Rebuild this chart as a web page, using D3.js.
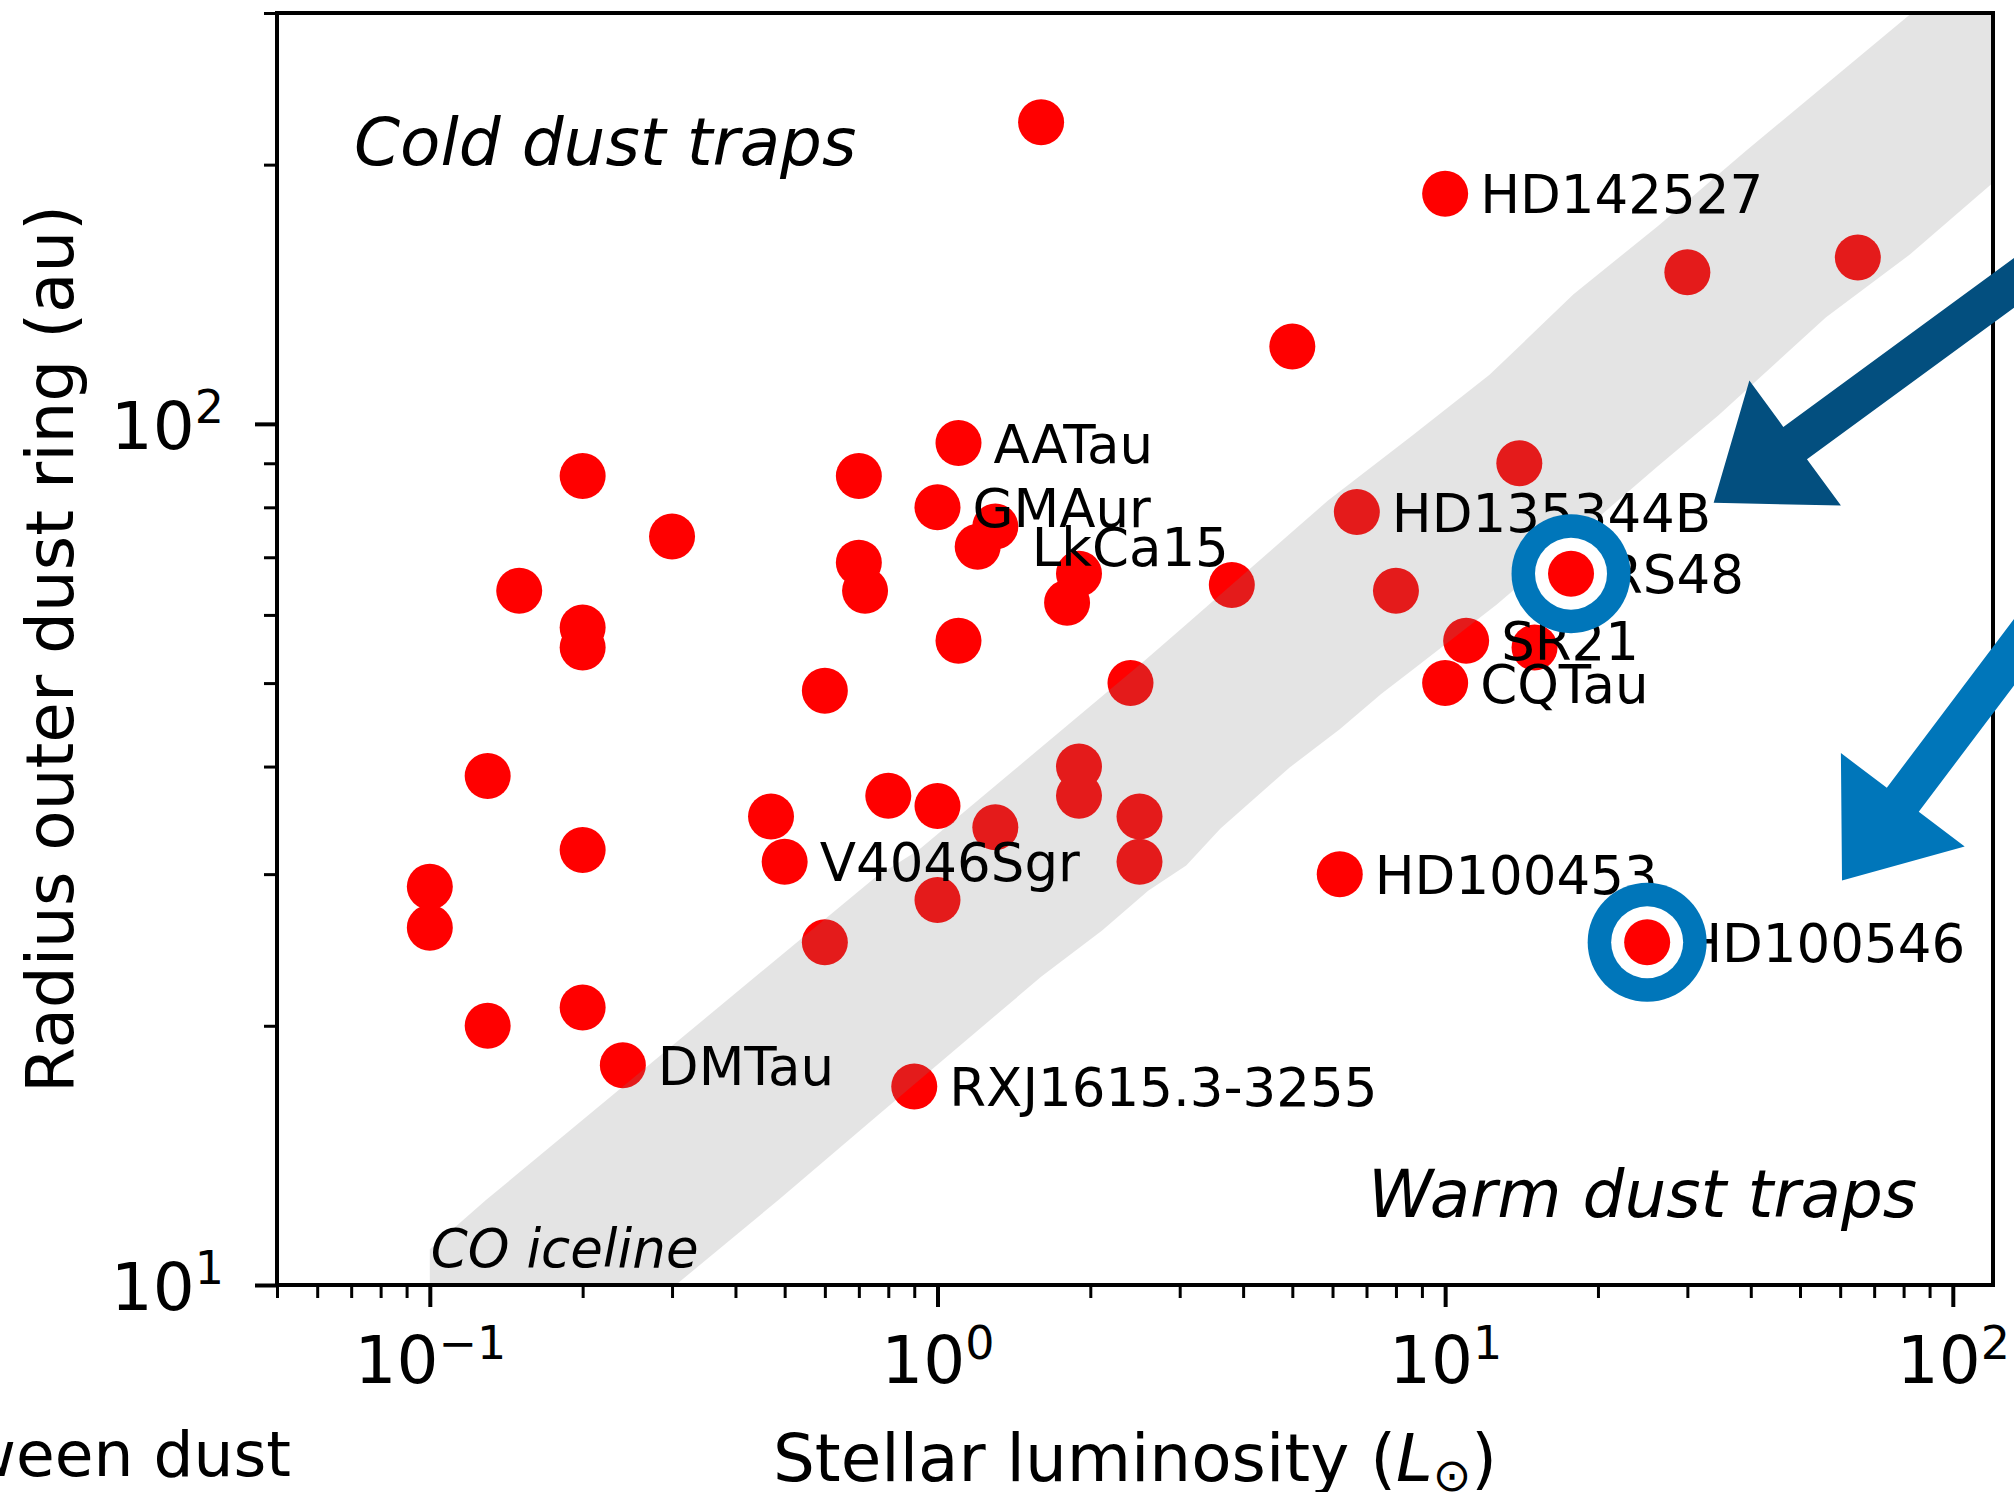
<!DOCTYPE html>
<html><head><meta charset="utf-8">
<script src="https://cdn.jsdelivr.net/npm/d3@7"></script>
<style>html,body{margin:0;padding:0;background:#fff;} svg{display:block;}</style>
</head><body>
<script>
// ---------------- DATA ----------------
const luminosity = [1.6, 10, 30, 65, 5, 1.1, 0.2, 0.7, 1.0, 1.3,
  1.2, 0.3, 0.7, 0.72, 0.15, 1.9, 1.8, 3.8, 0.2, 0.2,
  1.1, 14, 6.7, 8, 17.7, 11, 15, 10, 2.4, 0.6,
  0.13, 1.9, 1.9, 0.8, 1.0, 0.47, 1.3, 2.5, 0.2, 0.5,
  2.5, 0.1, 0.1, 1.0, 0.6, 6.2, 25, 0.13, 0.2, 0.24,
  0.9];
const radius = [224, 185, 150, 156, 123, 95, 87, 87, 80, 76,
  72, 74, 69, 64, 64, 67, 62, 65, 58, 55,
  56, 90, 79, 64, 67, 56, 55, 50, 50, 49,
  39, 40, 37, 37, 36, 35, 34, 35, 32, 31,
  31, 29, 26, 28, 25, 30, 25, 20, 21, 18,
  17];
const names = ["", "HD142527", "", "", "", "AATau", "", "", "GMAur", "",
  "LkCa15", "", "", "", "", "", "", "", "", "",
  "", "", "HD135344B", "", "RS48", "SR21", "", "CQTau", "", "",
  "", "", "", "", "", "", "", "", "", "V4046Sgr",
  "", "", "", "", "", "HD100453", "HD100546", "", "", "DMTau",
  "RXJ1615.3-3255"];
const highlighted = ["RS48", "HD100546"];

// CO iceline band edges (luminosity, radius)
const bandUpperL = [0.1, 0.129, 0.757, 0.918, 2.56, 3.09, 4.94, 5.87, 8.63, 12.23, 17.9, 26.3, 39.1, 83, 130];
const bandUpperR = [11.0, 12.55, 29.8, 32.0, 53.1, 58.5, 74.5, 81.4, 97.0, 114, 141.4, 169.9, 207.4, 300, 370];
const bandLowerL = [0.1, 0.305, 0.486, 0.757, 1.6, 2.11, 2.6, 3.09, 3.61, 4.94, 6.2, 7.49, 8.63, 12.64, 26.2, 34.6, 56.2, 82.3, 116.4, 130];
const bandLowerR = [5.8, 10, 12.55, 15.68, 22.8, 25.8, 28.7, 30.7, 33.9, 39.9, 44.2, 48.6, 51.8, 61.7, 89.2, 102.4, 132.9, 157.3, 187.7, 198];

// axes
const xDomain = [0.05, 120];
const yDomain = [10, 300];
const xMajorTicks = [0.1, 1, 10, 100];
const xTickExponents = ["\u22121", "0", "1", "2"];
const yMajorTicks = [10, 100];
const yTickExponents = ["1", "2"];

// arrow annotations: tip (luminosity, radius)
const arrowTipL = [33.8, 60.5];
const arrowTipR = [81, 29.5];

// ---------------- LAYOUT / STYLE ----------------
const W = 2014, H = 1492;
const M = {left: 277, right: 1993, top: 13, bottom: 1285};
const FONT = "'DejaVu Sans', 'Liberation Sans', sans-serif";
const labelDx = {"LkCa15": 54};
const arrowStyle = [
  {angle: -36.2, color: "#034f7f"},
  {angle: -53.0, color: "#0076ba"}
];

const svg = d3.select("body").append("svg")
  .attr("width", W).attr("height", H)
  .style("font-family", FONT);

const x = d3.scaleLog().domain(xDomain).range([M.left, M.right]);
const y = d3.scaleLog().domain(yDomain).range([M.bottom, M.top]);

svg.append("defs").append("clipPath").attr("id", "plotclip")
  .append("rect").attr("x", M.left).attr("y", M.top)
  .attr("width", M.right - M.left).attr("height", M.bottom - M.top);

const pts = luminosity.map((L, i) => ({L, R: radius[i], name: names[i]}));

// dots
svg.append("g").attr("clip-path", "url(#plotclip)")
  .selectAll("circle").data(pts).join("circle")
  .attr("cx", d => x(d.L)).attr("cy", d => y(d.R)).attr("r", 23)
  .attr("fill", "#ff0000");

// band (drawn over the dots, translucent)
const bandPts = bandUpperL.map((L, i) => [L, bandUpperR[i]])
  .concat(bandLowerL.map((L, i) => [L, bandLowerR[i]]).reverse());
svg.append("g").attr("clip-path", "url(#plotclip)")
  .append("path")
  .attr("d", d3.line().x(d => x(d[0])).y(d => y(d[1]))(bandPts) + "Z")
  .attr("fill", "#808080").attr("fill-opacity", 0.21);

// region texts
svg.append("text").attr("x", 354).attr("y", 165)
  .attr("font-size", 66).attr("font-style", "italic").text("Cold dust traps");
svg.append("text").attr("x", 1368).attr("y", 1217)
  .attr("font-size", 66).attr("font-style", "italic").text("Warm dust traps");
svg.append("text").attr("x", x(0.1) + 1).attr("y", 1267)
  .attr("font-size", 53).attr("font-style", "italic").text("CO iceline");

// labels
svg.append("g").selectAll("text").data(pts.filter(d => d.name)).join("text")
  .attr("x", d => x(d.L) + (labelDx[d.name] || 35))
  .attr("y", d => y(d.R) + 19.5)
  .attr("font-size", 53).attr("fill", "#000")
  .text(d => d.name);

// highlighted rings
const ringG = svg.append("g").selectAll("g")
  .data(pts.filter(d => highlighted.includes(d.name))).join("g")
  .attr("transform", d => `translate(${x(d.L)},${y(d.R)})`);
ringG.append("circle").attr("r", 59.5).attr("fill", "#0076ba");
ringG.append("circle").attr("r", 36).attr("fill", "#ffffff");
ringG.append("circle").attr("r", 23).attr("fill", "#ff0000");

// ---------- axes ----------
const xMinor = x.ticks().filter(t => !xMajorTicks.some(m => Math.abs(m - t) / m < 1e-9));
const yMinor = y.ticks().filter(t => !yMajorTicks.some(m => Math.abs(m - t) / m < 1e-9));

const gxMinor = svg.append("g").attr("transform", `translate(0,${M.bottom})`)
  .call(d3.axisBottom(x).tickValues(xMinor).tickSize(13).tickSizeOuter(0).tickFormat(""));
gxMinor.select(".domain").remove();
gxMinor.selectAll("line").attr("stroke", "#000").attr("stroke-width", 3);

const gxMajor = svg.append("g").attr("transform", `translate(0,${M.bottom})`)
  .call(d3.axisBottom(x).tickValues(xMajorTicks).tickSize(22).tickSizeOuter(0).tickFormat(""));
gxMajor.select(".domain").remove();
gxMajor.selectAll("line").attr("stroke", "#000").attr("stroke-width", 4);
gxMajor.selectAll(".tick text").remove();
gxMajor.selectAll(".tick").each(function(d, i) {
  const t = d3.select(this).append("text")
    .attr("y", 98).attr("text-anchor", "middle").attr("fill", "#000")
    .attr("font-size", 66).style("font-family", FONT);
  t.append("tspan").text("10");
  t.append("tspan").attr("font-size", 46).attr("dy", -24).text(xTickExponents[i]);
});

const gyMinor = svg.append("g").attr("transform", `translate(${M.left},0)`)
  .call(d3.axisLeft(y).tickValues(yMinor).tickSize(13).tickSizeOuter(0).tickFormat(""));
gyMinor.select(".domain").remove();
gyMinor.selectAll("line").attr("stroke", "#000").attr("stroke-width", 3);

const gyMajor = svg.append("g").attr("transform", `translate(${M.left},0)`)
  .call(d3.axisLeft(y).tickValues(yMajorTicks).tickSize(22).tickSizeOuter(0).tickFormat(""));
gyMajor.select(".domain").remove();
gyMajor.selectAll("line").attr("stroke", "#000").attr("stroke-width", 4);
gyMajor.selectAll(".tick text").remove();
gyMajor.selectAll(".tick").each(function(d, i) {
  const t = d3.select(this).append("text")
    .attr("x", -53).attr("y", 24.4).attr("text-anchor", "end").attr("fill", "#000")
    .attr("font-size", 66).style("font-family", FONT);
  t.append("tspan").text("10");
  t.append("tspan").attr("font-size", 46).attr("dy", -26).text(yTickExponents[i]);
});

// frame
svg.append("rect").attr("x", M.left).attr("y", M.top)
  .attr("width", M.right - M.left).attr("height", M.bottom - M.top)
  .attr("fill", "none").attr("stroke", "#000").attr("stroke-width", 4);

// axis titles
const xt = svg.append("text").attr("x", (M.left + M.right) / 2).attr("y", 1481)
  .attr("text-anchor", "middle").attr("font-size", 66);
xt.append("tspan").text("Stellar luminosity (");
xt.append("tspan").attr("font-style", "italic").text("L");
xt.append("tspan").attr("font-size", 46).attr("dy", 10).text("\u2299");
xt.append("tspan").attr("dy", -10).text(")");

svg.append("text")
  .attr("transform", `translate(73,${(M.top + M.bottom) / 2}) rotate(-90)`)
  .attr("text-anchor", "middle").attr("font-size", 66)
  .text("Radius outer dust ring (au)");

// cut-off neighbouring label
svg.append("text").attr("x", 291).attr("y", 1476).attr("text-anchor", "end")
  .attr("font-size", 63).text("between dust");

// arrows
const HL = 101, HW = 155, SW = 40, LEN = 520;
const arrowShape = [[0, 0], [HL, -HW / 2], [HL, -SW / 2], [LEN, -SW / 2], [LEN, SW / 2], [HL, SW / 2], [HL, HW / 2]];
svg.append("g").selectAll("path").data(arrowTipL.map((L, i) => ({L, R: arrowTipR[i], s: arrowStyle[i]})))
  .join("path")
  .attr("transform", d => `translate(${x(d.L)},${y(d.R)}) rotate(${d.s.angle})`)
  .attr("d", d3.line()(arrowShape) + "Z")
  .attr("fill", d => d.s.color);
</script>
</body></html>
